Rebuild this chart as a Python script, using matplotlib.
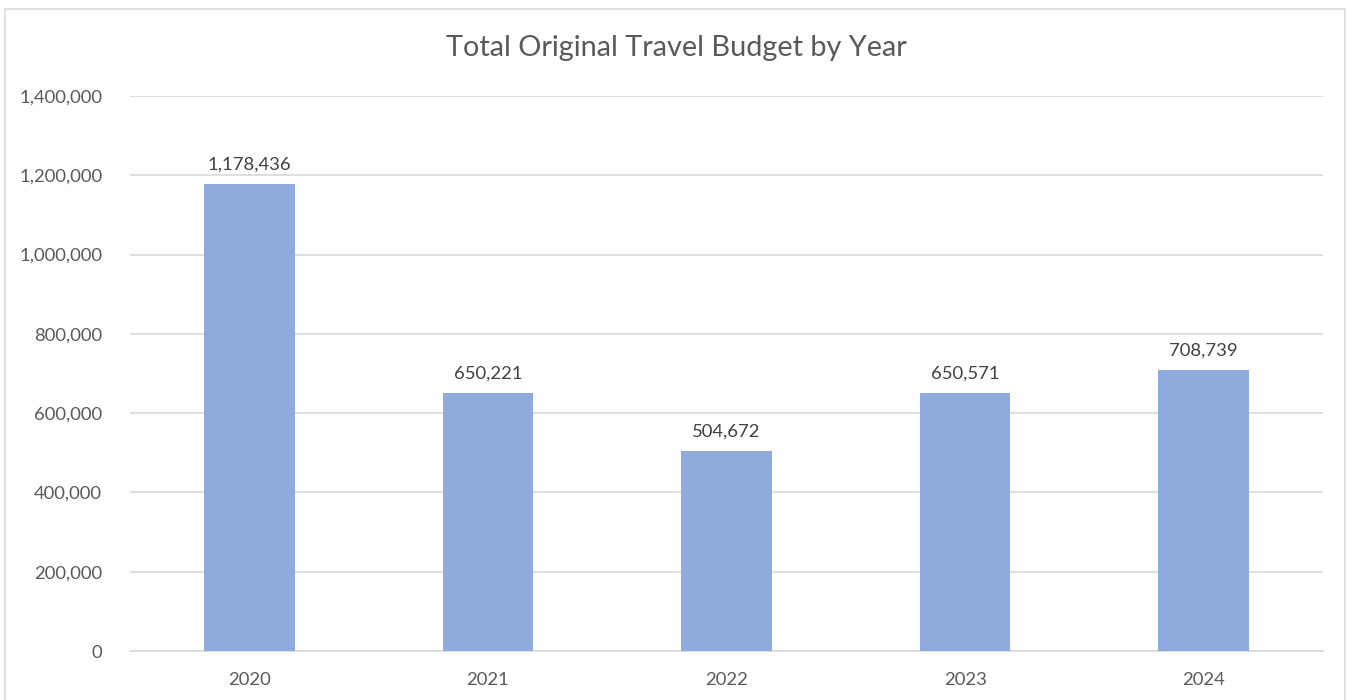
import matplotlib
matplotlib.use("Agg")
import matplotlib.pyplot as plt
from matplotlib.patches import Rectangle
from matplotlib.ticker import FuncFormatter, MultipleLocator

years = ["2020", "2021", "2022", "2023", "2024"]
budgets = [1178436, 650221, 504672, 650571, 708739]
title = "Total Original Travel Budget by Year"

plt.rcParams['font.family'] = ['Lato', 'DejaVu Sans']
W, H = 1351, 700
fig = plt.figure(figsize=(W / 100, H / 100), dpi=100)
fig.patch.set_facecolor("white")

# outer chart border
fig.add_artist(Rectangle((5 / W, -0.05), (1345 - 5) / W, 1.05 - 9 / H,
                         transform=fig.transFigure, fill=False,
                         edgecolor="#D9D9D9", linewidth=1.2))

left, right, top, bottom = 130, 1323, 96, 651
ax = fig.add_axes([left / W, 1 - bottom / H, (right - left) / W, (bottom - top) / H])
text_color = "#595959"

x = range(len(years))
ax.bar(x, budgets, width=0.38, color="#8FAADC", zorder=3)
for xi, v in zip(x, budgets):
    ax.annotate(f"{v:,}", (xi, v), xytext=(0, 8), textcoords="offset points",
                ha="center", va="bottom", fontsize=13.3, color="#404040")

ax.set_xlim(-0.5, len(years) - 0.5)
ax.set_ylim(0, 1400000)
ax.yaxis.set_major_locator(MultipleLocator(200000))
ax.yaxis.set_major_formatter(FuncFormatter(lambda v, p: f"{int(v):,}"))
ax.set_xticks(list(x))
ax.set_xticklabels(years)
ax.grid(axis="y", color="#D9D9D9", linewidth=1.2, zorder=0)
for s in ["top", "right", "left"]:
    ax.spines[s].set_visible(False)
ax.spines["bottom"].set_color("#D9D9D9")
ax.spines["bottom"].set_linewidth(1.2)
ax.tick_params(axis="both", length=0, labelsize=13.3, colors=text_color)
ax.tick_params(axis="y", pad=20)
ax.tick_params(axis="x", pad=15)

fig.text(676 / W, 1 - 48 / H, title, ha="center", va="center",
         fontsize=20.8, color=text_color)

fig.savefig("out.png", dpi=100, facecolor="white")
